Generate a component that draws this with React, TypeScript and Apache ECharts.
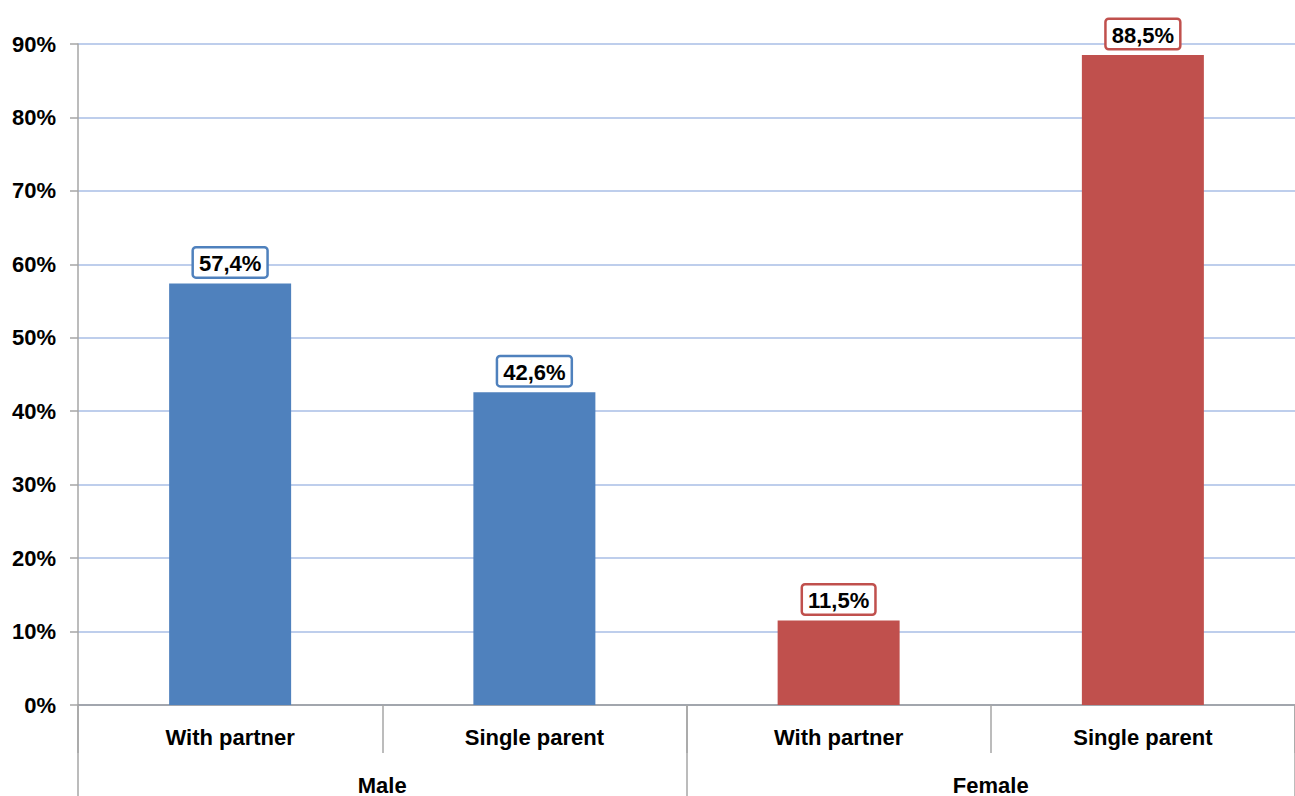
import React, { useEffect, useRef } from "react";
import * as echarts from "echarts";

const categories = ["With partner", "Single parent", "With partner", "Single parent"];
const groups = ["Male", "Female"];
const values = [57.4, 42.6, 11.5, 88.5];
const barColors = ["#4F81BD", "#4F81BD", "#C0504D", "#C0504D"];
const yTicks = { min: 0, max: 90, interval: 10 };

const FONT = "'Liberation Sans', Arial, sans-serif";

export default function App() {
  const ref = useRef<HTMLDivElement>(null);
  useEffect(() => {
    if (!ref.current) return;
    const chart = echarts.init(ref.current, null, { renderer: "svg" });
    chart.setOption({
      animation: false,
      grid: { left: 78, right: -2, top: 44, bottom: 91, containLabel: false },
      xAxis: [
        {
          type: "category",
          data: categories,
          position: "bottom",
          axisLine: { show: true, lineStyle: { color: "#999999", width: 1.5 } },
          axisTick: { show: true, length: 48, lineStyle: { color: "#A6A6A6", width: 1.5 } },
          axisLabel: { color: "#000", fontFamily: FONT, fontWeight: "bold", fontSize: 22, margin: 21 },
        },
        {
          type: "category",
          data: groups,
          position: "bottom",
          axisLine: { show: false },
          axisTick: { show: true, length: 91, lineStyle: { color: "#A6A6A6", width: 1.5 } },
          axisLabel: { color: "#000", fontFamily: FONT, fontWeight: "bold", fontSize: 22, margin: 69 },
        },
      ],
      yAxis: {
        type: "value",
        min: yTicks.min,
        max: yTicks.max,
        interval: yTicks.interval,
        axisLine: { show: true, lineStyle: { color: "#A6A6A6", width: 1.5 } },
        axisTick: { show: true, length: 8, lineStyle: { color: "#A6A6A6", width: 1.5 } },
        axisLabel: {
          color: "#000",
          fontFamily: FONT,
          fontWeight: "bold",
          fontSize: 22,
          margin: 22,
          formatter: (v: number) => `${v}%`,
        },
        splitLine: { show: true, lineStyle: { color: "#A9BEE6", width: 1.5 } },
      },
      series: [
        {
          type: "bar",
          xAxisIndex: 0,
          barWidth: 122,
          data: values.map((v, i) => ({
            value: v,
            itemStyle: { color: barColors[i] },
            label: { borderColor: barColors[i] },
          })),
          label: {
            show: true,
            position: "top",
            distance: 7,
            formatter: (p: any) => `${p.value.toFixed(1).replace(".", ",")}%`,
            color: "#000",
            fontFamily: FONT,
            fontWeight: "bold",
            fontSize: 22,
            backgroundColor: "#fff",
            borderWidth: 2.5,
            borderRadius: 2,
            padding: [4, 5, 2, 5],
          },
        },
      ],
    });
    return () => chart.dispose();
  }, []);
  return <div ref={ref} style={{ width: 1295, height: 796, position: "absolute", left: 0, top: 0, background: "#fff" }} />;
}
